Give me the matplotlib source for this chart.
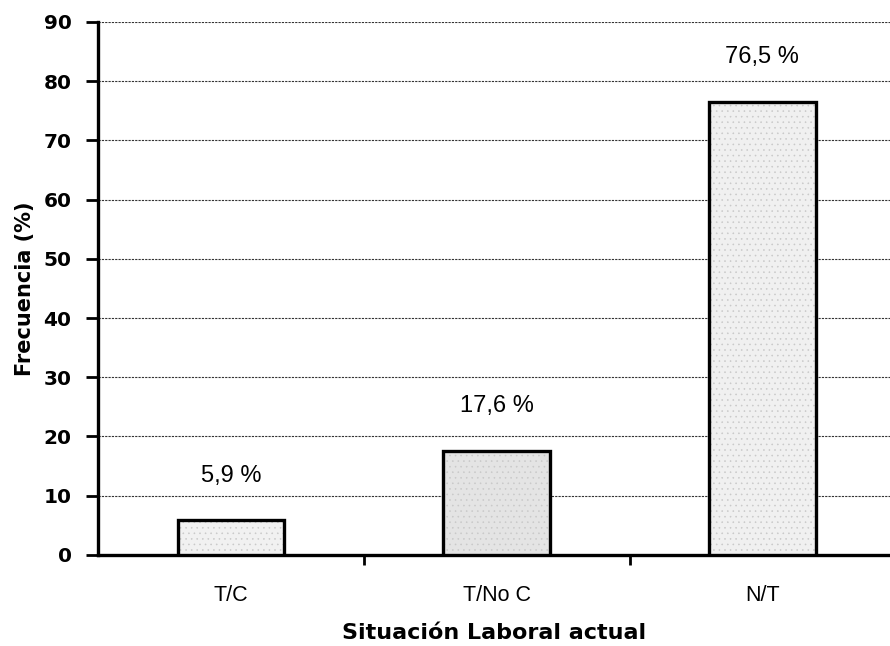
import numpy as np
import matplotlib.pyplot as plt

# data
categorias = ['T/C', 'T/No C', 'N/T']
frecuencia = [5.9, 17.6, 76.5]
etiquetas = ['5,9 %', '17,6 %', '76,5 %']
colores = ['#f1f1f1', '#e4e4e4', '#f0f0f0']

plt.rcParams['font.family'] = ['Liberation Sans', 'DejaVu Sans']
plt.rcParams['hatch.linewidth'] = 0.4

fig = plt.figure(figsize=(8.9, 6.46), dpi=100)
ax = fig.add_axes([0.110, 0.141, 0.890, 0.825])

x = np.arange(len(categorias))
# stippled fill, then black outline on top
ax.bar(x, frecuencia, width=0.4, color=colores, edgecolor='#c8c8c8',
       linewidth=0, hatch='...', zorder=3)
ax.bar(x, frecuencia, width=0.4, fill=False, edgecolor='black',
       linewidth=2.4, zorder=4)
for xi, h, t in zip(x, frecuencia, etiquetas):
    ax.text(xi, h + 7.5, t, ha='center', va='center', fontsize=17)

ax.set_ylim(0, 90)
ax.set_xlim(-0.5, 2.48)
ax.set_yticks(np.arange(0, 91, 10))
ax.set_yticklabels([str(v) for v in range(0, 91, 10)], fontsize=14.5,
                   fontweight='bold', family='DejaVu Sans')
ax.set_xticks([0.5, 1.5], minor=False)
ax.set_xticklabels([])
ax.set_xticks(x, minor=True)
ax.set_xticklabels(categorias, minor=True, fontsize=15.5)
ax.tick_params(axis='x', which='major', length=7, width=2, direction='out')
ax.tick_params(axis='x', which='minor', length=0, pad=22)
ax.tick_params(axis='y', length=9, width=2, direction='out', pad=10)

ax.yaxis.grid(True, linestyle=(0, (2, 1)), color='#333333', linewidth=0.8, zorder=0)
ax.set_axisbelow(True)
for s in ['top', 'right']:
    ax.spines[s].set_visible(False)
ax.spines['left'].set_linewidth(2.4)
ax.spines['bottom'].set_linewidth(2.4)

ax.set_ylabel('Frecuencia (%)', fontsize=15, fontweight='bold',
              family='DejaVu Sans', labelpad=6)
ax.set_xlabel('Situación Laboral actual', fontsize=16, fontweight='bold',
              family='DejaVu Sans', labelpad=12)

fig.savefig('out.png', dpi=100)
